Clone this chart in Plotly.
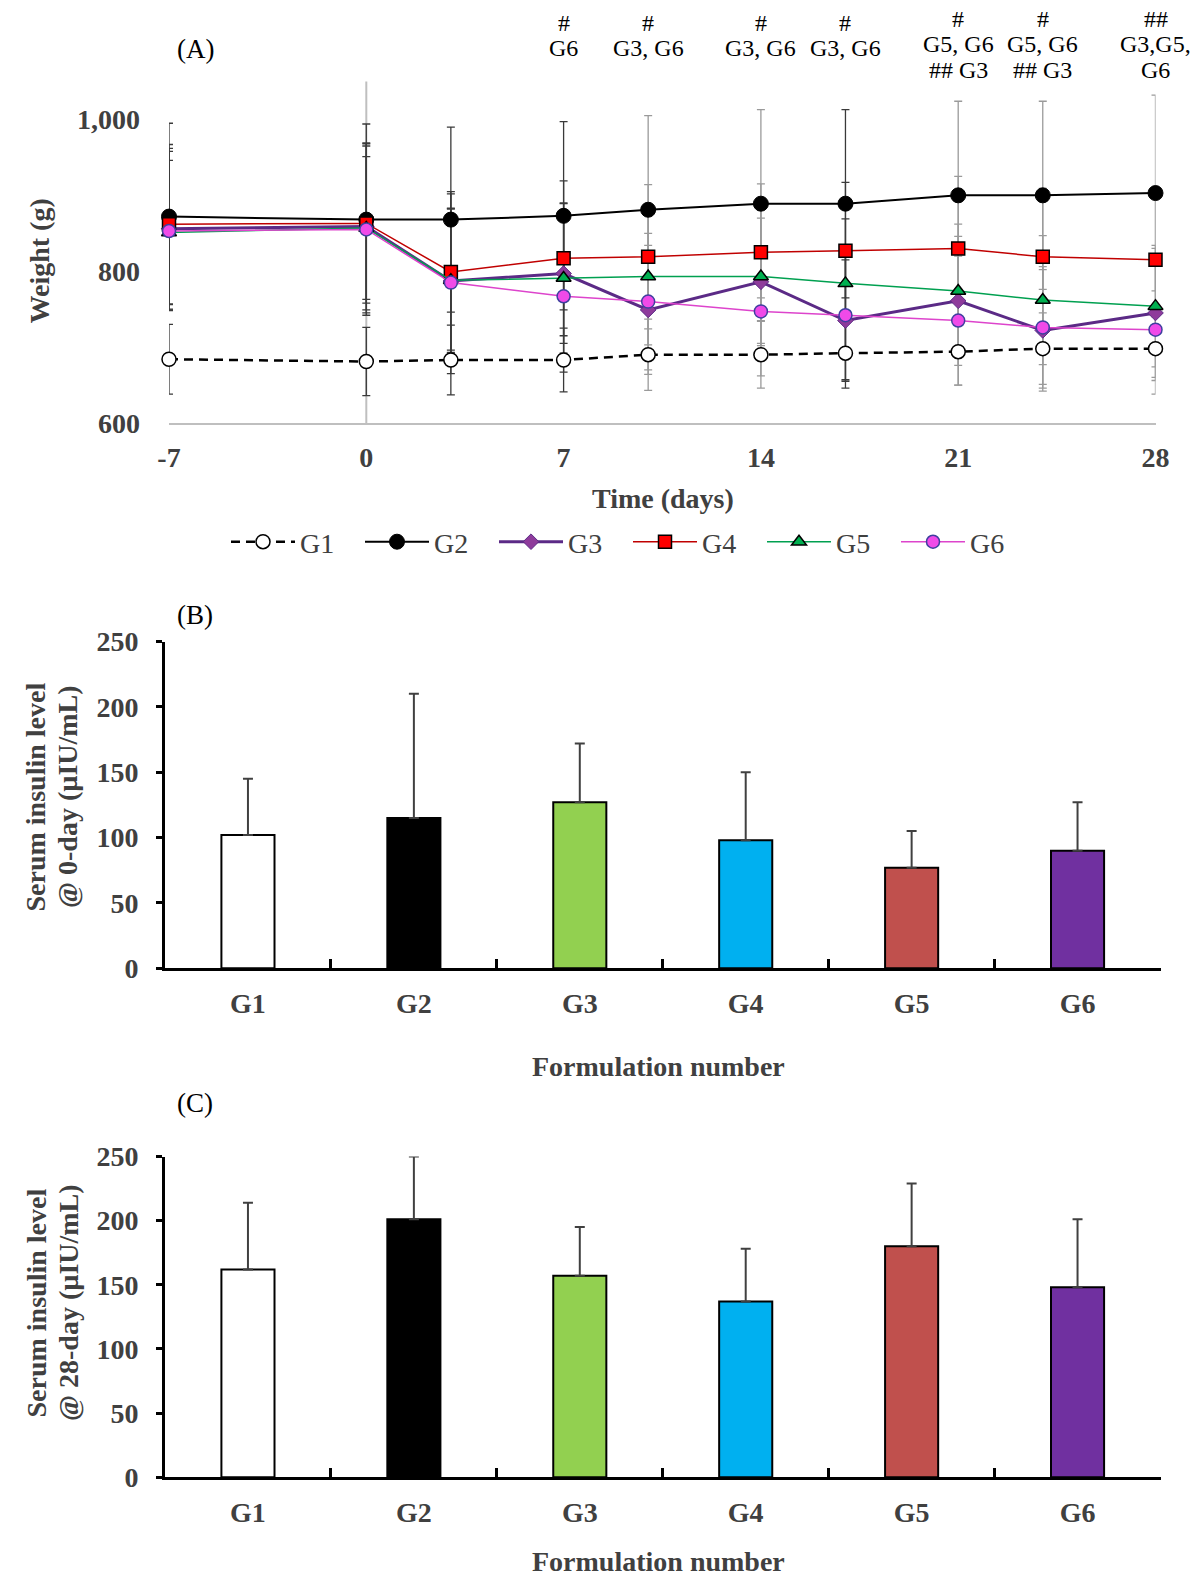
import plotly.graph_objects as go

# ---------------- data ----------------
days = [-7, 0, 3, 7, 10, 14, 17, 21, 24, 28]
day_ticks = [-7, 0, 7, 14, 21, 28]
day_tick_text = ["-7", "0", "7", "14", "21", "28"]
groups = ["G1", "G2", "G3", "G4", "G5", "G6"]

w_G1 = [684, 681, 683, 683, 690, 690, 692, 694, 698, 698]
w_G2 = [872, 868, 868, 873, 881, 889, 889, 900, 900, 903]
w_G3 = [856, 859, 787, 797, 749, 786, 735, 761, 722, 745]
w_G4 = [862, 863, 799, 817, 819, 825, 827, 830, 819, 815]
w_G5 = [851, 857, 788, 791, 793, 793, 784, 774, 762, 754]
w_G6 = [853, 855, 785, 767, 760, 747, 742, 735, 726, 723]

sd_G1 = [46, 45, 46, 42, 47, 44, 46, 44, 47, 42]
sd_G2 = [123, 126, 122, 124, 124, 124, 124, 124, 124, 129]
sd_G3 = [106, 110, 95, 92, 85, 84, 80, 85, 80, 85]
sd_G4 = [105, 105, 103, 102, 95, 90, 90, 95, 90, 90]
sd_G5 = [95, 94, 95, 99, 90, 88, 85, 88, 85, 80]
sd_G6 = [105, 110, 120, 100, 90, 85, 85, 85, 80, 85]

sig_days = [7, 10, 14, 17, 21, 24, 28]
sig_line1 = ["#", "#", "#", "#", "#", "#", "##"]
sig_line2 = ["G6", "G3, G6", "G3, G6", "G3, G6", "G5, G6", "G5, G6", "G3,G5,"]
sig_line3 = ["", "", "", "", "## G3", "## G3", "G6"]

ins0_mean = [102, 115, 127, 98, 77, 90]
ins0_sd = [43, 95, 45, 52, 28, 37]
ins28_mean = [162, 201, 157, 137, 180, 148]
ins28_sd = [52, 49, 38, 41, 49, 53]

bar_colors = ["#FFFFFF", "#000000", "#92D050", "#00B0F0", "#C0504D", "#7030A0"]

# ---------------- helpers ----------------
W, H = 1200, 1587
FONT = "Liberation Serif"
GRAY_TXT = "#404040"


def px(x):
    return x / W


def py(y):
    return 1 - y / H


fig = go.Figure()

weights = [w_G1, w_G2, w_G3, w_G4, w_G5, w_G6]
sds = [sd_G1, sd_G2, sd_G3, sd_G4, sd_G5, sd_G6]

dark_err_days = [-7, 0, 3, 7, 17]

# error bars (behind the lines)
for w, s in zip(weights, sds):
    for dark in (True, False):
        idx = [i for i, d in enumerate(days) if (d in dark_err_days) == dark]
        fig.add_trace(go.Scatter(
            x=[days[i] for i in idx], y=[w[i] for i in idx],
            mode="markers", marker=dict(size=2, opacity=0),
            error_y=dict(type="data", array=[s[i] for i in idx], symmetric=True,
                         color="#3a3a3a" if dark else "#9a9a9a", thickness=1.3, width=4),
            showlegend=False, hoverinfo="skip", cliponaxis=False,
            xaxis="x", yaxis="y"))

styles = {
    "G1": dict(line=dict(color="black", width=2.5, dash="9px,6px"),
               marker=dict(symbol="circle", size=14, color="white", line=dict(color="black", width=1.5))),
    "G2": dict(line=dict(color="black", width=2),
               marker=dict(symbol="circle", size=15, color="black", line=dict(color="black", width=1))),
    "G3": dict(line=dict(color="#5B2A86", width=3),
               marker=dict(symbol="diamond", size=12, color="#8E3B9B", line=dict(color="#5B2A86", width=1))),
    "G4": dict(line=dict(color="#C00000", width=1.5),
               marker=dict(symbol="square", size=13, color="#FF0000", line=dict(color="black", width=1.5))),
    "G5": dict(line=dict(color="#00A050", width=1.5),
               marker=dict(symbol="triangle-up", size=13, color="#00B050", line=dict(color="black", width=1.5))),
    "G6": dict(line=dict(color="#DD44CC", width=1.5),
               marker=dict(symbol="circle", size=13, color="#F04AE8", line=dict(color="#3F3F9F", width=1.5))),
}

for g, w in zip(groups, weights):
    st = styles[g]
    fig.add_trace(go.Scatter(
        x=days, y=w, mode="lines+markers", name=g,
        line=st["line"], marker=st["marker"], cliponaxis=False,
        xaxis="x", yaxis="y"))

# bars
for ax, means, sdv in (("2", ins0_mean, ins0_sd), ("3", ins28_mean, ins28_sd)):
    fig.add_trace(go.Bar(
        x=groups, y=means, width=0.32,
        marker=dict(color=bar_colors, line=dict(color="black", width=2)),
        error_y=dict(type="data", symmetric=False, array=sdv, arrayminus=[0] * len(sdv),
                     color="#404040", thickness=2, width=5),
        showlegend=False, xaxis="x" + ax, yaxis="y" + ax, cliponaxis=False))

tickfont = dict(family=FONT, size=28, color=GRAY_TXT, weight="bold")

# panel geometry
A_x = [px(169), px(1155.5)]
A_y = [py(423), py(81.5)]
B_x = [px(165), px(1160.5)]
B_y = [py(968.3), py(641.5)]
C_y = [py(1477.2), py(1156.5)]

common = dict(showgrid=False, zeroline=False, automargin=False, tickfont=tickfont)

fig.update_layout(
    width=W, height=H, margin=dict(l=0, r=0, t=0, b=0, pad=0, autoexpand=False),
    paper_bgcolor="white", plot_bgcolor="rgba(0,0,0,0)",
    font=dict(family=FONT, color=GRAY_TXT),
    xaxis=dict(domain=A_x, range=[-7, 28], tickvals=day_ticks, ticktext=day_tick_text,
               showline=True, linecolor="#BFBFBF", linewidth=2, ticks="",
               ticklabelstandoff=8, anchor="y", **common),
    yaxis=dict(domain=A_y, range=[600, 1050], tickvals=[600, 800, 1000], tickformat=",",
               showline=False, ticks="", ticklabelstandoff=28, anchor="x", **common),
    xaxis2=dict(domain=B_x, type="category", showline=True, linecolor="black", linewidth=3,
                ticks="inside", tickson="boundaries", ticklen=9, tickwidth=3, tickcolor="black",
                ticklabelstandoff=8, anchor="y2", **common),
    yaxis2=dict(domain=B_y, range=[0, 250], dtick=50, showline=True, linecolor="black", linewidth=3,
                ticks="outside", ticklen=6, tickwidth=3, tickcolor="black",
                ticklabelstandoff=12, anchor="x2", **common),
    xaxis3=dict(domain=B_x, type="category", showline=True, linecolor="black", linewidth=3,
                ticks="inside", tickson="boundaries", ticklen=9, tickwidth=3, tickcolor="black",
                ticklabelstandoff=8, anchor="y3", **common),
    yaxis3=dict(domain=C_y, range=[0, 250], dtick=50, showline=True, linecolor="black", linewidth=3,
                ticks="outside", ticklen=6, tickwidth=3, tickcolor="black",
                ticklabelstandoff=12, anchor="x3", **common),
    bargap=0.68,
    legend=dict(orientation="h", x=px(226), y=py(542), xanchor="left", yanchor="middle",
                font=dict(family=FONT, size=28, color=GRAY_TXT), itemwidth=64,
                entrywidth=55, entrywidthmode="pixels", bgcolor="rgba(0,0,0,0)",
                traceorder="normal"),
    showlegend=True,
)

# vertical axis line of panel A crossing at day 0
fig.add_shape(type="line", xref="x", yref="y domain", x0=0, x1=0, y0=0, y1=1,
              line=dict(color="#BFBFBF", width=2), layer="below")

ann = []


def add_text(text, x, y, size=28, bold=False, color=GRAY_TXT, angle=0, xref="paper", xanchor="center"):
    ann.append(dict(text=text, x=x, y=y, xref=xref, yref="paper", showarrow=False,
                    xanchor=xanchor, yanchor="middle", textangle=angle,
                    font=dict(family=FONT, size=size, color=color, weight="bold" if bold else "normal")))


add_text("(A)", px(195), py(49), size=27, color="black")
add_text("(B)", px(195), py(615), size=27, color="black")
add_text("(C)", px(195), py(1103), size=27, color="black")

add_text("Time (days)", px(663), py(499), bold=True)
add_text("Weight (g)", px(38.5), py(261), bold=True, angle=-90)

add_text("Formulation number", px(658), py(1066), bold=True)
add_text("Formulation number", px(658), py(1561), bold=True)

add_text("Serum insulin level", px(35.5), py(797), bold=True, angle=-90)
add_text("@ 0-day (µIU/mL)", px(68), py(797), bold=True, angle=-90)
add_text("Serum insulin level", px(35.5), py(1303), bold=True, angle=-90)
add_text("@ 28-day (µIU/mL)", px(68), py(1303), bold=True, angle=-90)

for d, l1, l2, l3 in zip(sig_days, sig_line1, sig_line2, sig_line3):
    off = 0 if l3 else 4
    for row, t in enumerate((l1, l2, l3)):
        if t:
            add_text(t, d, py(18.5 + off + row * 25.5), size=24, color="black", xref="x")

fig.update_layout(annotations=ann)

fig.write_html("out.html")
